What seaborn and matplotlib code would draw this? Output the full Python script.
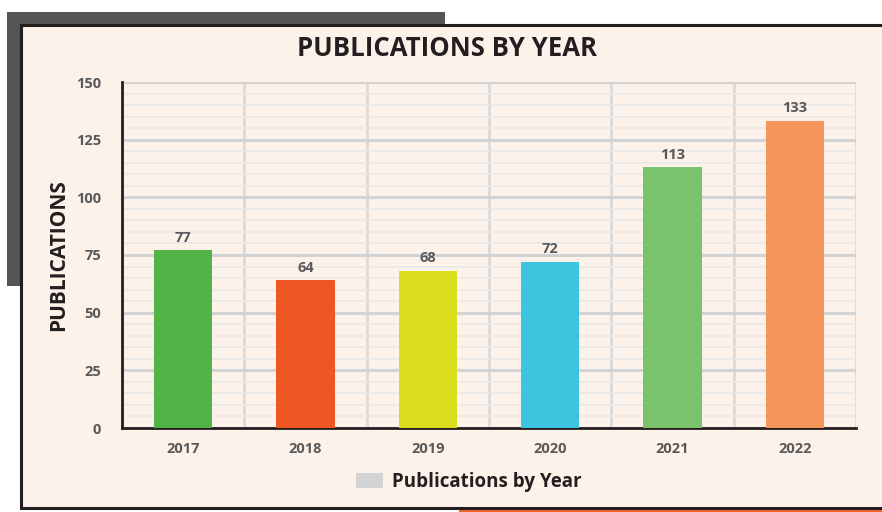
import matplotlib
matplotlib.use('Agg')
import matplotlib.pyplot as plt
import matplotlib.patches as mpatches
from matplotlib.ticker import MultipleLocator, FixedLocator
import seaborn as sns
import pandas as pd

# dane
years = ['2017', '2018', '2019', '2020', '2021', '2022']
publications = [77, 64, 68, 72, 113, 133]
bar_colors = ['#52B447', '#EE5723', '#DCDF1E', '#3DC5E0', '#79C36D', '#F6955A']
title_text = 'PUBLICATIONS BY YEAR'
ylabel_text = 'PUBLICATIONS'
legend_text = 'Publications by Year'

df = pd.DataFrame({'year': years, 'publications': publications})

sns.set_style('white')
plt.rcParams['font.family'] = ['Open Sans', 'DejaVu Sans']

W, H = 882, 512
fig = plt.figure(figsize=(W / 100, H / 100), dpi=100)
fig.patch.set_facecolor('white')

# tło: szary prostokąt, pomarańczowy pasek, panel
def px_rect(x0, y0, x1, y1, **kw):
    return mpatches.Rectangle((x0 / W, 1 - y1 / H), (x1 - x0) / W, (y1 - y0) / H,
                              transform=fig.transFigure, figure=fig, **kw)

fig.patches.append(px_rect(7, 12, 445, 286, facecolor='#545557', edgecolor='none', zorder=0))
fig.patches.append(px_rect(459, 500, 890, 515, facecolor='#F0642F', edgecolor='none', zorder=0))
fig.patches.append(px_rect(21, 24.5, 900, 508, facecolor='#FDF2E9', edgecolor='#231F20',
                           linewidth=2.2, zorder=1))

ax = fig.add_axes([122 / W, 1 - 428 / H, (856 - 122) / W, (428 - 82) / H])
ax.set_zorder(2)
ax.patch.set_alpha(0)

sns.barplot(data=df, x='year', y='publications', hue='year', palette=bar_colors,
            legend=False, width=0.475, saturation=1, ax=ax, zorder=3,
            edgecolor='none', linewidth=0)

ax.set_xlim(-0.5, 5.5)
ax.set_ylim(0, 150)

# siatka
ax.yaxis.set_major_locator(MultipleLocator(25))
ax.yaxis.set_minor_locator(MultipleLocator(5))
ax.xaxis.set_minor_locator(FixedLocator([i - 0.5 for i in range(7)]))
ax.grid(which='major', axis='y', color='#D1D3D4', linewidth=2.2, zorder=0)
ax.grid(which='minor', axis='y', color='#E8E8E9', linewidth=1.1, zorder=0)
ax.grid(which='minor', axis='x', color='#D9DADB', linewidth=2.0, zorder=0)
ax.set_axisbelow(True)

for s in ['top', 'right']:
    ax.spines[s].set_visible(False)
for s in ['left', 'bottom']:
    ax.spines[s].set_color('#231F20')
    ax.spines[s].set_linewidth(2.0)

ax.tick_params(axis='y', which='major', length=9, width=2.0, color='#231F20',
               labelsize=10.5, labelcolor='#58595B', pad=6)
ax.tick_params(axis='y', which='minor', length=0)
ax.tick_params(axis='x', which='major', length=0, labelsize=10.5, labelcolor='#58595B', pad=10)
ax.tick_params(axis='x', which='minor', length=10, width=2.0, color='#231F20', direction='out')
for lab in ax.get_xticklabels() + ax.get_yticklabels():
    lab.set_fontweight('bold')

ax.set_xlabel('')
ax.set_ylabel(ylabel_text, fontsize=15, fontweight='bold', color='#231F20', labelpad=5)

# etykiety nad słupkami
for i, v in enumerate(publications):
    ax.text(i, v + 2.5, str(v), ha='center', va='bottom', fontsize=10.5,
            fontweight='bold', color='#58595B', zorder=4)

fig.text(447 / W, 1 - 49 / H, title_text, ha='center', va='center', fontsize=18.5,
         fontweight='bold', color='#231F20', zorder=5)

handle = mpatches.Patch(facecolor='#D1D3D4', edgecolor='none', label=legend_text)
leg = fig.legend(handles=[handle], loc='center', bbox_to_anchor=(469 / W, 1 - 482 / H),
                 frameon=False, handlelength=1.4, handleheight=0.9, handletextpad=0.5,
                 prop={'size': 13.5, 'weight': 'bold'})
for t in leg.get_texts():
    t.set_color('#231F20')

fig.savefig('out.png', dpi=100, facecolor=fig.get_facecolor())
